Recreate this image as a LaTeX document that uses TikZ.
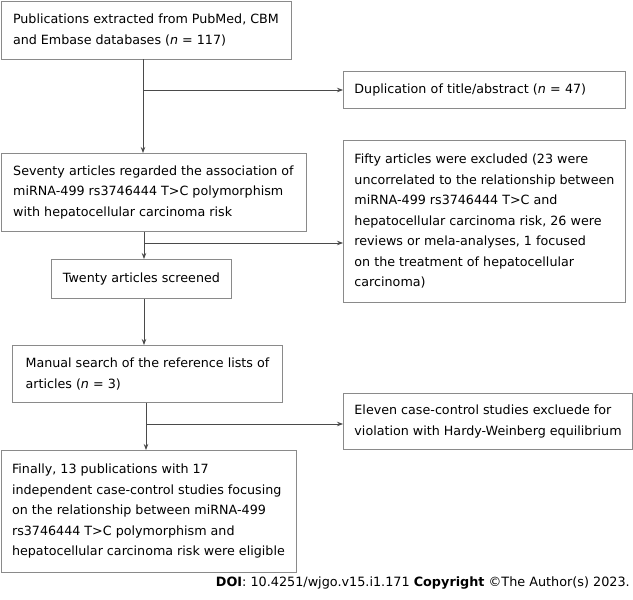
\documentclass[tikz,border=0pt]{standalone}
\usepackage{fontspec}
\setmainfont{DejaVu Sans}
\usepackage{tikz}
\usetikzlibrary{arrows.meta,positioning,calc}
\usepackage{xcolor}
\definecolor{boxgray}{HTML}{8A8A8A}
\definecolor{linegray}{HTML}{4A4A4A}

\begin{document}
\begin{tikzpicture}[x=1pt,y=-1pt,
  box/.style={draw=boxgray,line width=0.9pt,anchor=north west,align=left,inner xsep=11pt,inner ysep=0pt,
    font=\fontsize{12.7}{20.5}\selectfont,text=black},
  flow/.style={draw=linegray,line width=0.8pt,-{Stealth[length=6pt,width=4.5pt]}}]
\useasboundingbox (0,0) rectangle (633,600);
\node[box,minimum height=58pt,minimum width=290pt] (pub) at (0.5,0.5)
  {Publications extracted from PubMed, CBM\\and Embase databases (\textit{n} = 117)};
\node[box,minimum height=37pt,text width=260pt] (dup) at (343,71)
  {Duplication of title/abstract (\textit{n} = 47)};
\node[box,minimum height=78pt,minimum width=305pt] (seventy) at (0.5,153)
  {Seventy articles regarded the association of\\miRNA-499 rs3746444 T>C polymorphism\\with hepatocellular carcinoma risk};
\node[box,minimum height=162pt,minimum width=282pt] (fifty) at (343,140)
  {Fifty articles were excluded (23 were\\uncorrelated to the relationship between\\miRNA-499 rs3746444 T>C and\\hepatocellular carcinoma risk, 26 were\\reviews or mela-analyses, 1 focused\\on the treatment of hepatocellular\\carcinoma)};
\node[box,minimum height=39pt,minimum width=180pt] (twenty) at (51,259)
  {Twenty articles screened};
\node[box,minimum height=57pt,minimum width=270pt] (manual) at (12,345)
  {Manual search of the reference lists of\\articles (\textit{n} = 3)};
\node[box,minimum height=56pt,minimum width=289pt] (eleven) at (343,393)
  {Eleven case-control studies excluede for\\violation with Hardy-Weinberg equilibrium};
\node[box,minimum height=122pt,minimum width=295pt] (final) at (0.5,450)
  {Finally, 13 publications with 17\\independent case-control studies focusing\\on the relationship between miRNA-499\\rs3746444 T>C polymorphism and\\hepatocellular carcinoma risk were eligible};
\node[anchor=east,inner sep=0pt,font=\fontsize{12.8}{15}\selectfont] (doi) at (630,583)
  {\textbf{DOI}: 10.4251/wjgo.v15.i1.171 \textbf{Copyright} ©The Author(s) 2023.};
% main trunk with side branches
\coordinate (br1) at (143,90);
\coordinate (br2) at (144,243);
\coordinate (br3) at (146,424);
\draw[flow] (pub.south -| br1) -- (seventy.north -| br1);
\draw[flow] (br1) -- (br1 -| dup.west);
\draw[flow] (seventy.south -| br2) -- (twenty.north -| br2);
\draw[flow] (br2) -- (br2 -| fifty.west);
\draw[flow] (twenty.south -| br2) -- (manual.north -| br2);
\draw[flow] (manual.south -| br3) -- (final.north -| br3);
\draw[flow] (br3) -- (br3 -| eleven.west);
\end{tikzpicture}
\end{document}
